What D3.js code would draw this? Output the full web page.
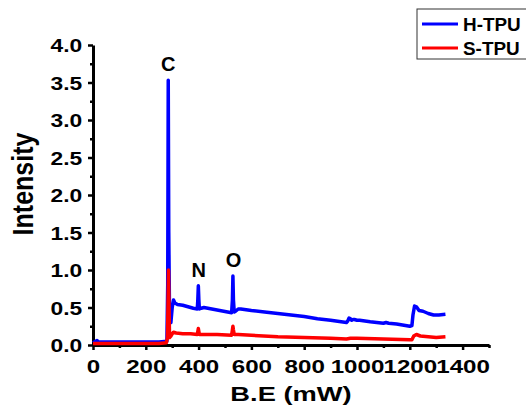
<!DOCTYPE html>
<html>
<head>
<meta charset="utf-8">
<script src="https://cdn.jsdelivr.net/npm/d3@7"></script>
<style>
  body { margin: 0; background: #fff; }
  text { font-family: "Liberation Sans", Arial, sans-serif; font-weight: bold; fill: #000; }
</style>
</head>
<body>
<div id="chart"></div>
<script>
// H-TPU spectrum (B.E, intensity)
const htpuX = [0, 5, 10, 15, 20, 30, 60, 100, 150, 200, 250, 280, 283, 285, 287, 290, 295, 300, 305, 310, 320, 340, 360, 380, 395, 397, 399, 401, 403, 410, 420, 450, 480, 510, 525, 528, 530, 532, 535, 540, 550, 560, 600, 650, 700, 750, 800, 850, 900, 960, 965, 970, 975, 980, 985, 990, 1000, 1010, 1050, 1100, 1110, 1120, 1150, 1200, 1208, 1212, 1218, 1225, 1235, 1250, 1270, 1290, 1310, 1335];
const htpuY = [0.03, 0.04, 0.05, 0.06, 0.04, 0.04, 0.04, 0.04, 0.04, 0.04, 0.04, 0.05, 0.8, 3.53, 1.5, 0.35, 0.3, 0.5, 0.6, 0.56, 0.54, 0.53, 0.51, 0.49, 0.48, 0.6, 0.79, 0.6, 0.48, 0.49, 0.5, 0.48, 0.46, 0.44, 0.43, 0.6, 0.92, 0.6, 0.44, 0.45, 0.48, 0.48, 0.46, 0.44, 0.42, 0.4, 0.38, 0.35, 0.33, 0.3, 0.32, 0.36, 0.35, 0.33, 0.34, 0.34, 0.33, 0.33, 0.31, 0.29, 0.3, 0.29, 0.28, 0.25, 0.26, 0.4, 0.52, 0.51, 0.46, 0.45, 0.42, 0.4, 0.4, 0.41];
// S-TPU spectrum
const stpuX = [0, 50, 150, 250, 278, 282, 284, 286, 288, 290, 295, 300, 305, 315, 340, 370, 395, 397, 399, 401, 403, 420, 470, 525, 528, 530, 532, 535, 550, 600, 700, 800, 900, 960, 975, 1000, 1100, 1200, 1208, 1215, 1225, 1240, 1270, 1300, 1335];
const stpuY = [0.02, 0.02, 0.02, 0.02, 0.03, 0.1, 0.5, 1.0, 0.5, 0.1, 0.12, 0.15, 0.17, 0.16, 0.15, 0.15, 0.14, 0.18, 0.22, 0.18, 0.14, 0.14, 0.14, 0.13, 0.2, 0.25, 0.2, 0.14, 0.14, 0.13, 0.11, 0.1, 0.09, 0.08, 0.09, 0.09, 0.08, 0.07, 0.07, 0.12, 0.14, 0.12, 0.11, 0.1, 0.11];

const seriesNames = ["H-TPU", "S-TPU"],
    seriesColors = ["#0000ff", "#ff0000"];
const xTicks = [0, 200, 400, 600, 800, 1000, 1200, 1400],
    yTicks = [0, 0.5, 1.0, 1.5, 2.0, 2.5, 3.0, 3.5, 4.0];
const peakNames = ["C", "N", "O"],
    peakX = [285, 400, 532],
    peakY = [3.53, 0.79, 0.92];

const margin = {top: 45, right: 37, bottom: 70, left: 93},
    width = 526 - margin.left - margin.right,
    height = 415 - margin.top - margin.bottom;

const svg = d3.select("#chart").append("svg")
    .attr("width", 526)
    .attr("height", 415);

const g = svg.append("g")
    .attr("transform", "translate(" + margin.left + "," + margin.top + ")");

const x = d3.scaleLinear().domain([0, 1500]).range([0, width]);
const y = d3.scaleLinear().domain([0, 4]).range([height, 0]);

// minor ticks first, then major ones with labels
g.append("g")
    .attr("transform", "translate(0," + height + ")")
    .call(d3.axisBottom(x).tickValues(d3.range(100, 1501, 200)).tickSize(3).tickSizeOuter(0).tickFormat(""))
    .call(a => a.select(".domain").remove())
    .selectAll("line").attr("stroke", "#000").attr("stroke-width", 2.5);

g.append("g")
    .call(d3.axisLeft(y).tickValues(d3.range(0.25, 4, 0.5)).tickSize(3).tickSizeOuter(0).tickFormat(""))
    .call(a => a.select(".domain").remove())
    .selectAll("line").attr("stroke", "#000").attr("stroke-width", 2.5);

const xAxis = g.append("g")
    .attr("transform", "translate(0," + height + ")")
    .call(d3.axisBottom(x).tickValues(xTicks).tickSize(5).tickSizeOuter(0).tickPadding(10).tickFormat(d3.format("d")));
xAxis.select(".domain").attr("stroke", "#000").attr("stroke-width", 3);
xAxis.selectAll("line").attr("stroke", "#000").attr("stroke-width", 2.5);
xAxis.selectAll("text")
    .style("font-size", "19px")
    .attr("transform", "scale(1.27,1)");

const yAxis = g.append("g")
    .call(d3.axisLeft(y).tickValues(yTicks).tickSize(5).tickSizeOuter(0).tickPadding(4).tickFormat(d3.format(".1f")));
yAxis.select(".domain").attr("stroke", "#000").attr("stroke-width", 3);
yAxis.selectAll("line").attr("stroke", "#000").attr("stroke-width", 2.5);
yAxis.selectAll("text")
    .style("font-size", "19px")
    .attr("dy", "0.36em")
    .attr("transform", "scale(1.2,1)");

// spectra lines
const line = d3.line().x(d => x(d[0])).y(d => y(d[1]));
const data = [d3.zip(htpuX, htpuY), d3.zip(stpuX, stpuY)];

g.selectAll(".spectrum")
    .data(data)
    .enter().append("path")
    .attr("class", "spectrum")
    .attr("d", line)
    .attr("fill", "none")
    .attr("stroke", (d, i) => seriesColors[i])
    .attr("stroke-width", 3.5)
    .attr("stroke-linejoin", "round");

// peak labels
g.selectAll(".peak")
    .data(peakNames)
    .enter().append("text")
    .attr("class", "peak")
    .attr("text-anchor", "middle")
    .attr("transform", (d, i) => "translate(" + x(peakX[i]) + "," + (y(peakY[i]) - 9) + ")")
    .style("font-size", "20px")
    .text(d => d);

// axis titles
svg.append("text")
    .attr("text-anchor", "middle")
    .attr("transform", "translate(" + (margin.left + width / 2) + ",401) scale(1.3,1)")
    .style("font-size", "21px")
    .text("B.E (mW)");

svg.append("text")
    .attr("text-anchor", "middle")
    .attr("transform", "translate(33,184) rotate(-90) scale(1,1.2)")
    .style("font-size", "25px")
    .text("Intensity");

// legend
const legend = svg.append("g").attr("transform", "translate(417,9)");
legend.append("rect")
    .attr("width", 120).attr("height", 50)
    .attr("fill", "#fff").attr("stroke", "#333").attr("stroke-width", 1);
legend.selectAll("line")
    .data(seriesNames)
    .enter().append("line")
    .attr("x1", 5).attr("x2", 41)
    .attr("y1", (d, i) => 15 + i * 24).attr("y2", (d, i) => 15 + i * 24)
    .attr("stroke", (d, i) => seriesColors[i])
    .attr("stroke-width", 3);
legend.selectAll("text")
    .data(seriesNames)
    .enter().append("text")
    .attr("transform", (d, i) => "translate(46," + (22 + i * 24) + ") scale(1.05,1)")
    .style("font-size", "18px")
    .text(d => d);
</script>
</body>
</html>
